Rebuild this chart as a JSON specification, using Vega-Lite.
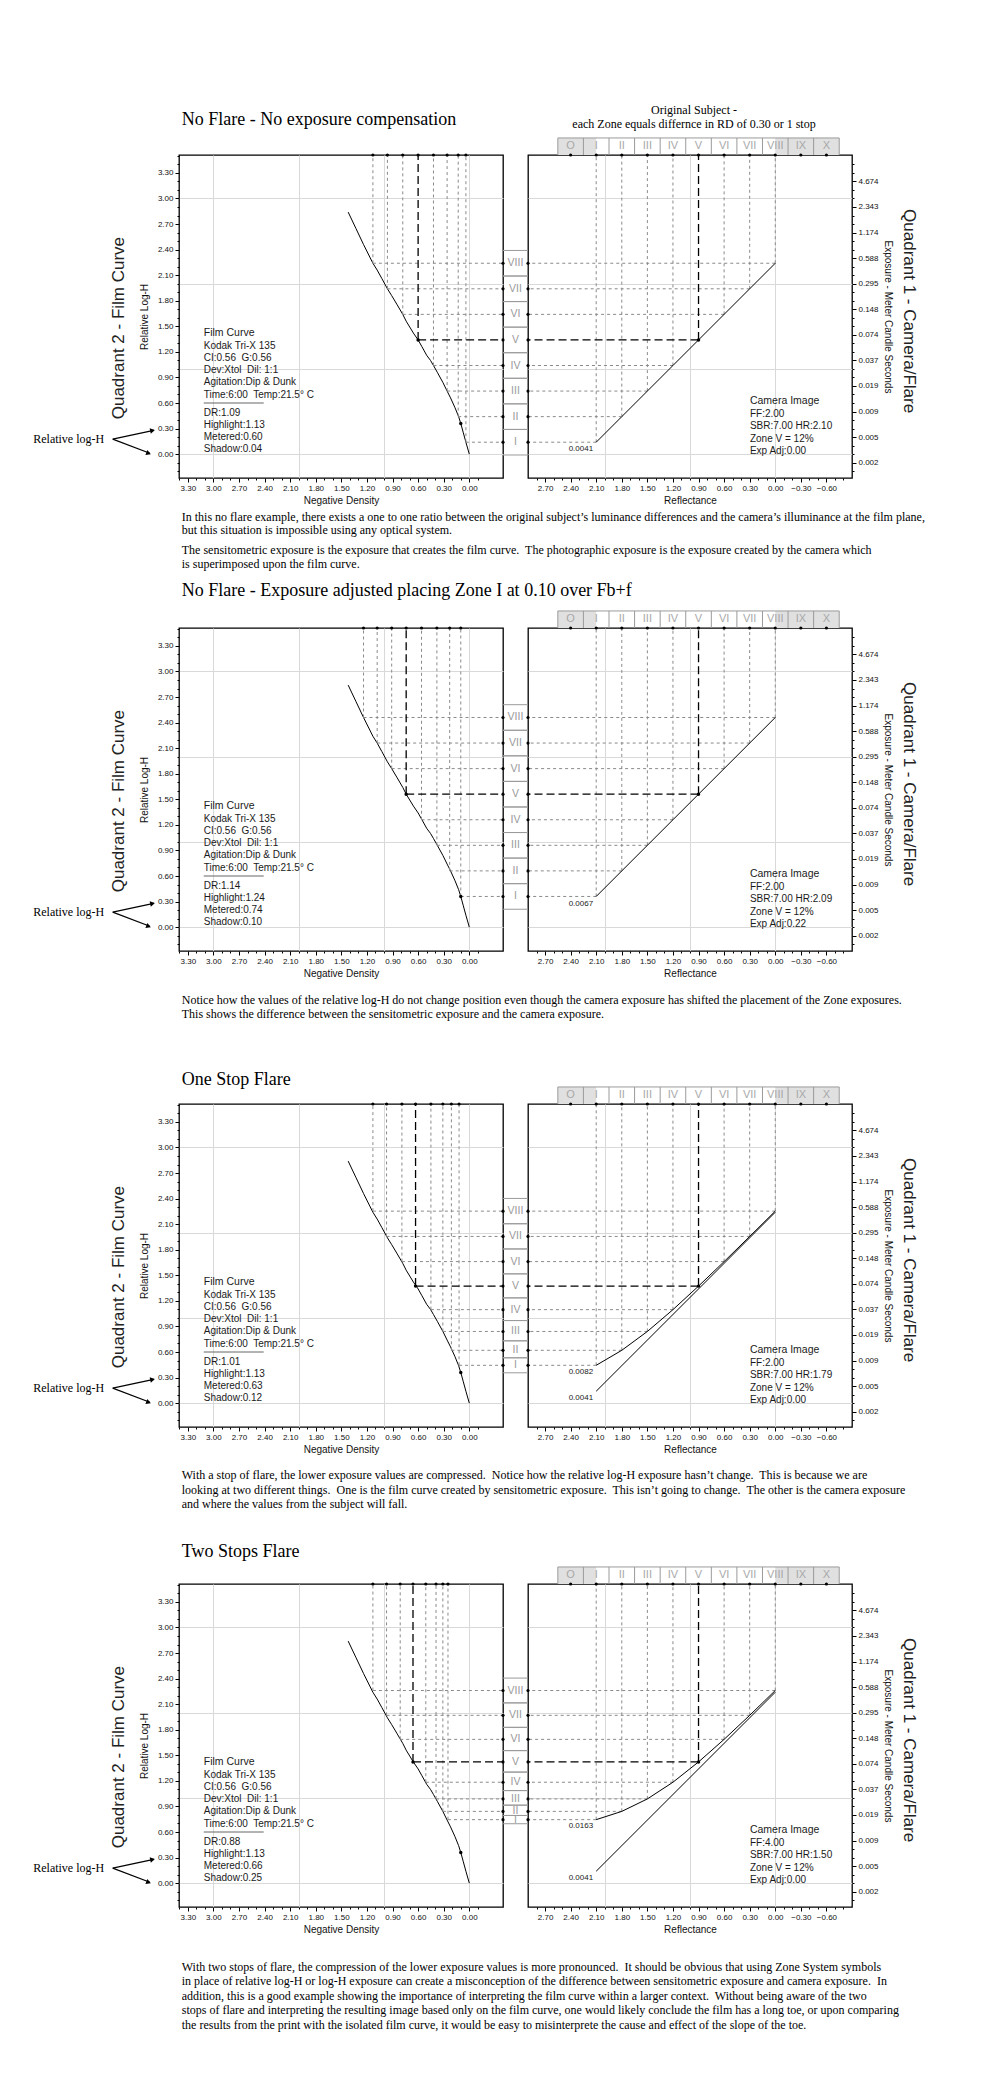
{
"$schema": "https://vega.github.io/schema/vega-lite/v6.json",
"padding": 0,
"background": "white",
"config": {
  "font": "Liberation Sans",
  "view": {"stroke": "#000", "strokeWidth": 1.3},
  "axis": {"labelFont": "Liberation Sans", "labelFontSize": 8, "labelColor": "#111", "tickColor": "#000", "titleFont": "Liberation Sans", "titleFontSize": 10, "titleFontWeight": "normal", "titleColor": "#111", "domain": false, "labelOverlap": false, "labelFlush": false, "labelBound": false, "gridColor": "#d9d9d9", "labelPadding": 2, "tickCount": 100},
  "text": {"font": "Liberation Sans", "color": "#1a1a1a"}
},
"datasets": {
  "film": [
    {"logH": 0, "D": 0}, {"logH": 0.14, "D": 0.04}, {"logH": 0.25, "D": 0.07}, {"logH": 0.36, "D": 0.10}, {"logH": 0.44, "D": 0.125}, {"logH": 0.55, "D": 0.17}, {"logH": 0.66, "D": 0.22}, {"logH": 0.74, "D": 0.26}, {"logH": 0.842, "D": 0.31}, {"logH": 0.96, "D": 0.375}, {"logH": 1.04, "D": 0.42}, {"logH": 1.10, "D": 0.455}, {"logH": 1.16, "D": 0.50}, {"logH": 1.26, "D": 0.555}, {"logH": 1.34, "D": 0.60}, {"logH": 1.42, "D": 0.655}, {"logH": 1.56, "D": 0.74}, {"logH": 1.64, "D": 0.78}, {"logH": 1.76, "D": 0.85}, {"logH": 1.86, "D": 0.91}, {"logH": 1.94, "D": 0.96}, {"logH": 2.06, "D": 1.025}, {"logH": 2.16, "D": 1.08}, {"logH": 2.24, "D": 1.13}, {"logH": 2.46, "D": 1.24}, {"logH": 2.65, "D": 1.33}, {"logH": 2.84, "D": 1.42}
  ],
  "zones": [
    {"sec":1,"zone":"I","logH":0.14,"D":0.04,"R":2.1,"lo":-0.01,"hi":0.29},
    {"sec":1,"zone":"II","logH":0.44,"D":0.13,"R":1.8,"lo":0.29,"hi":0.59},
    {"sec":1,"zone":"III","logH":0.74,"D":0.26,"R":1.5,"lo":0.59,"hi":0.89},
    {"sec":1,"zone":"IV","logH":1.04,"D":0.42,"R":1.2,"lo":0.89,"hi":1.19},
    {"sec":1,"zone":"V","logH":1.34,"D":0.60,"R":0.9,"lo":1.19,"hi":1.49},
    {"sec":1,"zone":"VI","logH":1.64,"D":0.78,"R":0.6,"lo":1.49,"hi":1.79},
    {"sec":1,"zone":"VII","logH":1.94,"D":0.96,"R":0.3,"lo":1.79,"hi":2.09},
    {"sec":1,"zone":"VIII","logH":2.24,"D":1.13,"R":0.0,"lo":2.09,"hi":2.39},
    {"sec":2,"zone":"I","logH":0.36,"D":0.10,"R":2.1,"lo":0.21,"hi":0.51},
    {"sec":2,"zone":"II","logH":0.66,"D":0.23,"R":1.8,"lo":0.51,"hi":0.81},
    {"sec":2,"zone":"III","logH":0.96,"D":0.38,"R":1.5,"lo":0.81,"hi":1.11},
    {"sec":2,"zone":"IV","logH":1.26,"D":0.56,"R":1.2,"lo":1.11,"hi":1.41},
    {"sec":2,"zone":"V","logH":1.56,"D":0.74,"R":0.9,"lo":1.41,"hi":1.71},
    {"sec":2,"zone":"VI","logH":1.86,"D":0.91,"R":0.6,"lo":1.71,"hi":2.01},
    {"sec":2,"zone":"VII","logH":2.16,"D":1.08,"R":0.3,"lo":2.01,"hi":2.31},
    {"sec":2,"zone":"VIII","logH":2.46,"D":1.24,"R":0.0,"lo":2.31,"hi":2.61},
    {"sec":3,"zone":"I","logH":0.444,"D":0.12,"R":2.1,"lo":0.356,"hi":0.532},
    {"sec":3,"zone":"II","logH":0.62,"D":0.21,"R":1.8,"lo":0.532,"hi":0.731},
    {"sec":3,"zone":"III","logH":0.841,"D":0.31,"R":1.5,"lo":0.731,"hi":0.969},
    {"sec":3,"zone":"IV","logH":1.097,"D":0.45,"R":1.2,"lo":0.969,"hi":1.235},
    {"sec":3,"zone":"V","logH":1.373,"D":0.63,"R":0.9,"lo":1.235,"hi":1.517},
    {"sec":3,"zone":"VI","logH":1.661,"D":0.79,"R":0.6,"lo":1.517,"hi":1.809},
    {"sec":3,"zone":"VII","logH":1.956,"D":0.97,"R":0.3,"lo":1.809,"hi":2.105},
    {"sec":3,"zone":"VIII","logH":2.253,"D":1.13,"R":0.0,"lo":2.105,"hi":2.402},
    {"sec":4,"zone":"I","logH":0.745,"D":0.25,"R":2.1,"lo":0.697,"hi":0.794},
    {"sec":4,"zone":"II","logH":0.842,"D":0.31,"R":1.8,"lo":0.794,"hi":0.915},
    {"sec":4,"zone":"III","logH":0.988,"D":0.39,"R":1.5,"lo":0.915,"hi":1.086},
    {"sec":4,"zone":"IV","logH":1.184,"D":0.51,"R":1.2,"lo":1.086,"hi":1.303},
    {"sec":4,"zone":"V","logH":1.422,"D":0.66,"R":0.9,"lo":1.303,"hi":1.555},
    {"sec":4,"zone":"VI","logH":1.687,"D":0.81,"R":0.6,"lo":1.555,"hi":1.828},
    {"sec":4,"zone":"VII","logH":1.969,"D":0.97,"R":0.3,"lo":1.828,"hi":2.115},
    {"sec":4,"zone":"VIII","logH":2.26,"D":1.13,"R":0.0,"lo":2.115,"hi":2.406}
  ],
  "top": [
    {"zone":"O","R":2.4,"R1":2.55},{"zone":"I","R":2.1,"R1":2.25},{"zone":"II","R":1.8,"R1":1.95},{"zone":"III","R":1.5,"R1":1.65},{"zone":"IV","R":1.2,"R1":1.35},{"zone":"V","R":0.9,"R1":1.05},{"zone":"VI","R":0.6,"R1":0.75},{"zone":"VII","R":0.3,"R1":0.45},{"zone":"VIII","R":0.0,"R1":0.15},{"zone":"IX","R":-0.3,"R1":-0.15},{"zone":"X","R":-0.6,"R1":-0.45}
  ],
  "ref": [
    {"sec":3,"R":2.1,"logH":0.14},{"sec":3,"R":0.0,"logH":2.24},
    {"sec":4,"R":2.1,"logH":0.14},{"sec":4,"R":0.0,"logH":2.24}
  ]
},
"vconcat": [
{"hconcat": [
 {"width": 324, "height": 323, "layer": [
  {"data": {"values": [{}]}, "mark": {"type": "rule", "opacity": 0}, "encoding": {"x": {"datum": 5.493}, "x2": {"datum": -6.323}, "y": {"datum": 5.317}, "y2": {"datum": -1.418}}},
  {"data": {"name": "film"}, "mark": {"type": "line", "color": "#000", "strokeWidth": 1},
   "encoding": {
    "x": {"field": "D", "type": "quantitative", "scale": {"domain": [-0.395, 3.403], "reverse": true, "nice": false, "zero": false},
      "axis": {"title": "Negative Density", "tickCount": 100, "labelOverlap": false, "values": [-0.1,0,0.1,0.2,0.3,0.4,0.5,0.6,0.7,0.8,0.9,1,1.1,1.2,1.3,1.4,1.5,1.6,1.7,1.8,1.9,2,2.1,2.2,2.3,2.4,2.5,2.6,2.7,2.8,2.9,3,3.1,3.2,3.3,3.4], "labelExpr": "round(datum.value*10)%3==0 ? format(datum.value,'.2f') : ''", "tickSize": {"condition": {"test": "round(datum.value*10)%3==0", "value": 4}, "value": 2}, "grid": true, "gridOpacity": {"condition": {"test": "abs(datum.value-round(datum.value))<0.01", "value": 1}, "value": 0}, "titlePadding": 3}},
    "y": {"field": "logH", "type": "quantitative", "scale": {"domain": [-0.28, 3.51], "nice": false, "zero": false},
      "axis": {"title": "Relative Log-H", "tickCount": 100, "labelOverlap": false, "values": [-0.2,-0.1,0,0.1,0.2,0.3,0.4,0.5,0.6,0.7,0.8,0.9,1,1.1,1.2,1.3,1.4,1.5,1.6,1.7,1.8,1.9,2,2.1,2.2,2.3,2.4,2.5,2.6,2.7,2.8,2.9,3,3.1,3.2,3.3,3.4,3.5], "labelExpr": "round(datum.value*10)%3==0 ? format(datum.value,'.2f') : ''", "tickSize": {"condition": {"test": "round(datum.value*10)%3==0", "value": 4}, "value": 2}, "grid": true, "gridOpacity": {"condition": {"test": "abs(datum.value-round(datum.value))<0.01", "value": 1}, "value": 0}, "titlePadding": 8}}}},
  {"data": {"name": "zones"}, "transform": [{"filter": "datum.sec==1 && datum.zone!='V'"}], "mark": {"type": "rule", "color": "#8a8a8a", "strokeDash": [3,3], "strokeWidth": 1}, "encoding": {"x": {"field": "D", "type": "quantitative"}, "y": {"field": "logH", "type": "quantitative"}, "y2": {"datum": 3.51}}},
  {"data": {"name": "zones"}, "transform": [{"filter": "datum.sec==1 && datum.zone!='V'"}], "mark": {"type": "rule", "color": "#8a8a8a", "strokeDash": [3,3], "strokeWidth": 1}, "encoding": {"x": {"field": "D", "type": "quantitative"}, "x2": {"datum": -0.395}, "y": {"field": "logH", "type": "quantitative"}}},
  {"data": {"name": "zones"}, "transform": [{"filter": "datum.sec==1 && datum.zone=='V'"}], "mark": {"type": "rule", "color": "#000", "strokeDash": [8,4], "strokeWidth": 1.3}, "encoding": {"x": {"field": "D", "type": "quantitative"}, "y": {"field": "logH", "type": "quantitative"}, "y2": {"datum": 3.51}}},
  {"data": {"name": "zones"}, "transform": [{"filter": "datum.sec==1 && datum.zone=='V'"}], "mark": {"type": "rule", "color": "#000", "strokeDash": [8,4], "strokeWidth": 1.3}, "encoding": {"x": {"field": "D", "type": "quantitative"}, "x2": {"datum": -0.395}, "y": {"field": "logH", "type": "quantitative"}}},
  {"data": {"name": "zones"}, "transform": [{"filter": "datum.sec==1"}], "mark": {"type": "point", "filled": true, "size": 10, "color": "#000", "opacity": 1}, "encoding": {"x": {"field": "D", "type": "quantitative"}, "y": {"datum": 3.51}}},
  {"data": {"name": "zones"}, "transform": [{"filter": "datum.sec==1"}], "mark": {"type": "point", "filled": true, "size": 10, "color": "#000", "opacity": 1}, "encoding": {"x": {"datum": -0.395}, "y": {"field": "logH", "type": "quantitative"}}},
  {"data": {"name": "zones"}, "transform": [{"filter": "datum.sec==1 && datum.zone=='V'"}], "mark": {"type": "point", "filled": true, "size": 12, "color": "#000", "opacity": 1}, "encoding": {"x": {"field": "D", "type": "quantitative"}, "y": {"field": "logH", "type": "quantitative"}}},
  {"data": {"values": [{}]}, "mark": {"type": "point", "filled": true, "size": 12, "color": "#000", "opacity": 1}, "encoding": {"x": {"datum": 0.10}, "y": {"datum": 0.36}}},
  {"data": {"values": [{}]}, "mark": {"type": "text", "font": "Liberation Serif", "fontSize": 18, "align": "left", "baseline": "middle", "color": "#000"}, "encoding": {"x": {"datum": 3.371}, "y": {"datum": 3.921}, "text": {"value": "No Flare - No exposure compensation"}}},
  {"data": {"values": [{}]}, "mark": {"type": "text", "font": "Liberation Serif", "fontSize": 12, "lineHeight": 13.5, "align": "left", "baseline": "alphabetic", "color": "#000"}, "encoding": {"x": {"datum": 3.371}, "y": {"datum": -0.780}, "text": {"value": ["In this no flare example, there exists a one to one ratio between the original subject’s luminance differences and the camera’s illuminance at the film plane,", "but this situation is impossible using any optical system."]}}},
  {"data": {"values": [{}]}, "mark": {"type": "text", "font": "Liberation Serif", "fontSize": 12, "lineHeight": 14, "align": "left", "baseline": "alphabetic", "color": "#000"}, "encoding": {"x": {"datum": 3.371}, "y": {"datum": -1.167}, "text": {"value": ["The sensitometric exposure is the exposure that creates the film curve.\u00a0 The photographic exposure is the exposure created by the camera which", "is superimposed upon the film curve."]}}},
  {"data": {"values": [{}]}, "mark": {"type": "text", "fontSize": 10.5, "align": "left", "baseline": "middle"}, "encoding": {"x": {"datum": 3.113}, "y": {"datum": 1.42}, "text": {"value": "Film Curve"}}},
  {"data": {"values": [{}]}, "mark": {"type": "text", "fontSize": 10, "lineHeight": 12.1, "align": "left", "baseline": "alphabetic"}, "encoding": {"x": {"datum": 3.113}, "y": {"datum": 1.232}, "text": {"value": ["Kodak Tri-X 135", "CI:0.56\u00a0 G:0.56", "Dev:Xtol\u00a0 Dil: 1:1", "Agitation:Dip & Dunk", "Time:6:00\u00a0 Temp:21.5° C"]}}},
  {"data": {"values": [{}]}, "mark": {"type": "rule", "color": "#666", "strokeWidth": 1}, "encoding": {"x": {"datum": 3.113}, "x2": {"datum": 2.41}, "y": {"datum": 0.60}}},
  {"data": {"values": [{}]}, "mark": {"type": "text", "fontSize": 10, "lineHeight": 11.8, "align": "left", "baseline": "alphabetic"}, "encoding": {"x": {"datum": 3.113}, "y": {"datum": 0.446}, "text": {"value": ["DR:1.09", "Highlight:1.13", "Metered:0.60", "Shadow:0.04"]}}},
  {"data": {"values": [{}]}, "mark": {"type": "text", "fontSize": 17, "angle": 270, "align": "center", "baseline": "middle", "color": "#222"}, "encoding": {"x": {"datum": 4.110}, "y": {"datum": 1.479}, "text": {"value": "Quadrant 2 - Film Curve"}}},
  {"data": {"values": [{}]}, "mark": {"type": "text", "font": "Liberation Serif", "fontSize": 12, "align": "center", "baseline": "middle", "color": "#000"}, "encoding": {"x": {"datum": 4.696}, "y": {"datum": 0.176}, "text": {"value": "Relative log-H"}}},
  {"data": {"values": [{}]}, "mark": {"type": "rule", "color": "#000", "strokeWidth": 1.2}, "encoding": {"x": {"datum": 4.18}, "y": {"datum": 0.176}, "x2": {"datum": 3.70}, "y2": {"datum": 0.278}}},
  {"data": {"values": [{}]}, "mark": {"type": "rule", "color": "#000", "strokeWidth": 1.2}, "encoding": {"x": {"datum": 4.18}, "y": {"datum": 0.176}, "x2": {"datum": 3.745}, "y2": {"datum": 0.01}}},
  {"data": {"values": [{}]}, "mark": {"type": "point", "shape": "triangle", "filled": true, "size": 30, "angle": 78, "color": "#000", "opacity": 1}, "encoding": {"x": {"datum": 3.722}, "y": {"datum": 0.275}}},
  {"data": {"values": [{}]}, "mark": {"type": "point", "shape": "triangle", "filled": true, "size": 30, "angle": 111, "color": "#000", "opacity": 1}, "encoding": {"x": {"datum": 3.768}, "y": {"datum": 0.013}}}
 ]},
 {"width": 324, "height": 323, "layer": [
  {"data": {"values": [{}]}, "mark": {"type": "rect", "color": "#e0e0e0"}, "encoding": {"x": {"datum": 2.55}, "x2": {"datum": 2.10}, "y": {"datum": 3.51}, "y2": {"datum": 3.71}}},
  {"data": {"values": [{}]}, "mark": {"type": "rect", "color": "#e0e0e0"}, "encoding": {"x": {"datum": 0.0}, "x2": {"datum": -0.75}, "y": {"datum": 3.51}, "y2": {"datum": 3.71}}},
  {"data": {"name": "top"}, "mark": {"type": "rule", "color": "#9a9a9a"}, "encoding": {"x": {"field": "R1", "type": "quantitative"}, "y": {"datum": 3.51}, "y2": {"datum": 3.71}}},
  {"data": {"values": [{}]}, "mark": {"type": "rule", "color": "#9a9a9a"}, "encoding": {"x": {"datum": -0.75}, "y": {"datum": 3.51}, "y2": {"datum": 3.71}}},
  {"data": {"values": [{}]}, "mark": {"type": "rule", "color": "#9a9a9a"}, "encoding": {"x": {"datum": 2.55}, "x2": {"datum": -0.75}, "y": {"datum": 3.71}}},
  {"data": {"name": "top"}, "mark": {"type": "text", "fontSize": 11, "color": "#a8a8a8", "baseline": "middle"}, "encoding": {"x": {"field": "R", "type": "quantitative"}, "y": {"datum": 3.61}, "text": {"field": "zone", "type": "nominal"}}},
  {"data": {"name": "zones"}, "transform": [{"filter": "datum.sec==1"}], "mark": {"type": "rule", "color": "#9a9a9a"}, "encoding": {"x": {"datum": 2.90}, "x2": {"datum": 3.193}, "y": {"field": "lo", "type": "quantitative"}}},
  {"data": {"name": "zones"}, "transform": [{"filter": "datum.sec==1"}], "mark": {"type": "rule", "color": "#9a9a9a"}, "encoding": {"x": {"datum": 2.90}, "x2": {"datum": 3.193}, "y": {"field": "hi", "type": "quantitative"}}},
  {"data": {"name": "zones"}, "transform": [{"filter": "datum.sec==1"}], "mark": {"type": "text", "fontSize": 10.5, "color": "#999", "baseline": "middle"}, "encoding": {"x": {"datum": 3.047}, "y": {"field": "logH", "type": "quantitative"}, "text": {"field": "zone", "type": "nominal"}}},
  {"data": {"name": "zones"}, "transform": [{"filter": "datum.sec==1 && datum.zone!='V'"}], "mark": {"type": "rule", "color": "#8a8a8a", "strokeDash": [3,3], "strokeWidth": 1}, "encoding": {"x": {"field": "R", "type": "quantitative"}, "y": {"field": "logH", "type": "quantitative"}, "y2": {"datum": 3.51}}},
  {"data": {"name": "zones"}, "transform": [{"filter": "datum.sec==1 && datum.zone!='V'"}], "mark": {"type": "rule", "color": "#8a8a8a", "strokeDash": [3,3], "strokeWidth": 1}, "encoding": {"x": {"field": "R", "type": "quantitative"}, "x2": {"datum": 2.90}, "y": {"field": "logH", "type": "quantitative"}}},
  {"data": {"name": "zones"}, "transform": [{"filter": "datum.sec==1 && datum.zone=='V'"}], "mark": {"type": "rule", "color": "#000", "strokeDash": [8,4], "strokeWidth": 1.3}, "encoding": {"x": {"field": "R", "type": "quantitative"}, "y": {"field": "logH", "type": "quantitative"}, "y2": {"datum": 3.51}}},
  {"data": {"name": "zones"}, "transform": [{"filter": "datum.sec==1 && datum.zone=='V'"}], "mark": {"type": "rule", "color": "#000", "strokeDash": [8,4], "strokeWidth": 1.3}, "encoding": {"x": {"field": "R", "type": "quantitative"}, "x2": {"datum": 2.90}, "y": {"field": "logH", "type": "quantitative"}}},
  {"data": {"name": "zones"}, "transform": [{"filter": "datum.sec==1"}], "mark": {"type": "line", "color": "#000", "strokeWidth": 1},
   "encoding": {
    "x": {"field": "R", "type": "quantitative", "scale": {"domain": [-0.9, 2.9], "reverse": true, "nice": false, "zero": false},
      "axis": {"title": "Reflectance", "tickCount": 100, "labelOverlap": false, "values": [-0.8,-0.7,-0.6,-0.5,-0.4,-0.3,-0.2,-0.1,0,0.1,0.2,0.3,0.4,0.5,0.6,0.7,0.8,0.9,1,1.1,1.2,1.3,1.4,1.5,1.6,1.7,1.8,1.9,2,2.1,2.2,2.3,2.4,2.5,2.6,2.7,2.8], "labelExpr": "round(datum.value*10)%3==0 ? format(datum.value,'.2f') : ''", "tickSize": {"condition": {"test": "round(datum.value*10)%3==0", "value": 4}, "value": 2}, "grid": true, "gridOpacity": {"condition": {"test": "abs(datum.value-round(datum.value))<0.01", "value": 1}, "value": 0}, "titlePadding": 3}},
    "y": {"field": "logH", "type": "quantitative", "scale": {"domain": [-0.28, 3.51], "nice": false, "zero": false},
      "axis": {"orient": "right", "title": "Exposure - Meter Candle Seconds", "tickCount": 100, "labelOverlap": false, "values": [-0.2,-0.1,0,0.1,0.2,0.3,0.4,0.5,0.6,0.7,0.8,0.9,1,1.1,1.2,1.3,1.4,1.5,1.6,1.7,1.8,1.9,2,2.1,2.2,2.3,2.4,2.5,2.6,2.7,2.8,2.9,3,3.1,3.2,3.3,3.4], "labelExpr": "(round(datum.value*10)+1)%3==0 ? format(4.674*pow(10,datum.value-3.2),'.3f') : ''", "tickSize": {"condition": {"test": "(round(datum.value*10)+1)%3==0", "value": 4}, "value": 2}, "grid": true, "gridOpacity": {"condition": {"test": "abs(datum.value-round(datum.value))<0.01", "value": 1}, "value": 0}, "titlePadding": 4}}}},
  {"data": {"name": "top"}, "mark": {"type": "point", "filled": true, "size": 10, "color": "#000", "opacity": 1}, "encoding": {"x": {"field": "R", "type": "quantitative"}, "y": {"datum": 3.51}}},
  {"data": {"name": "zones"}, "transform": [{"filter": "datum.sec==1"}], "mark": {"type": "point", "filled": true, "size": 10, "color": "#000", "opacity": 1}, "encoding": {"x": {"datum": 2.90}, "y": {"field": "logH", "type": "quantitative"}}},
  {"data": {"name": "zones"}, "transform": [{"filter": "datum.sec==1 && datum.zone=='V'"}], "mark": {"type": "point", "filled": true, "size": 12, "color": "#000", "opacity": 1}, "encoding": {"x": {"field": "R", "type": "quantitative"}, "y": {"field": "logH", "type": "quantitative"}}},
  {"data": {"values": [{}]}, "mark": {"type": "text", "fontSize": 8, "baseline": "middle"}, "encoding": {"x": {"datum": 2.28}, "y": {"datum": 0.055}, "text": {"value": "0.0041"}}},
  {"data": {"values": [{}]}, "mark": {"type": "text", "fontSize": 10.5, "align": "left", "baseline": "middle"}, "encoding": {"x": {"datum": 0.297}, "y": {"datum": 0.62}, "text": {"value": "Camera Image"}}},
  {"data": {"values": [{}]}, "mark": {"type": "text", "fontSize": 10, "lineHeight": 12.3, "align": "left", "baseline": "alphabetic"}, "encoding": {"x": {"datum": 0.297}, "y": {"datum": 0.434}, "text": {"value": ["FF:2.00", "SBR:7.00 HR:2.10", "Zone V = 12%", "Exp Adj:0.00"]}}},
  {"data": {"values": [{}]}, "mark": {"type": "text", "fontSize": 17, "angle": 90, "align": "center", "baseline": "middle", "color": "#222"}, "encoding": {"x": {"datum": -1.567}, "y": {"datum": 1.678}, "text": {"value": "Quadrant 1 - Camera/Flare"}}},
  {"data": {"values": [{}]}, "mark": {"type": "text", "font": "Liberation Serif", "fontSize": 12, "lineHeight": 14, "align": "center", "baseline": "alphabetic", "color": "#000"}, "encoding": {"x": {"datum": 0.953}, "y": {"datum": 3.996}, "text": {"value": ["Original Subject -", "each Zone equals differnce in RD of 0.30 or 1 stop"]}}}
 ]}
], "spacing": 25, "bounds": "flush"},

{"hconcat": [
 {"width": 324, "height": 323, "layer": [
  {"data": {"values": [{}]}, "mark": {"type": "rule", "opacity": 0}, "encoding": {"x": {"datum": 5.493}, "x2": {"datum": -6.323}, "y": {"datum": 4.108}, "y2": {"datum": -1.360}}},
  {"data": {"name": "film"}, "mark": {"type": "line", "color": "#000", "strokeWidth": 1},
   "encoding": {
    "x": {"field": "D", "type": "quantitative", "scale": {"domain": [-0.395, 3.403], "reverse": true, "nice": false, "zero": false},
      "axis": {"title": "Negative Density", "tickCount": 100, "labelOverlap": false, "values": [-0.1,0,0.1,0.2,0.3,0.4,0.5,0.6,0.7,0.8,0.9,1,1.1,1.2,1.3,1.4,1.5,1.6,1.7,1.8,1.9,2,2.1,2.2,2.3,2.4,2.5,2.6,2.7,2.8,2.9,3,3.1,3.2,3.3,3.4], "labelExpr": "round(datum.value*10)%3==0 ? format(datum.value,'.2f') : ''", "tickSize": {"condition": {"test": "round(datum.value*10)%3==0", "value": 4}, "value": 2}, "grid": true, "gridOpacity": {"condition": {"test": "abs(datum.value-round(datum.value))<0.01", "value": 1}, "value": 0}, "titlePadding": 3}},
    "y": {"field": "logH", "type": "quantitative", "scale": {"domain": [-0.28, 3.51], "nice": false, "zero": false},
      "axis": {"title": "Relative Log-H", "tickCount": 100, "labelOverlap": false, "values": [-0.2,-0.1,0,0.1,0.2,0.3,0.4,0.5,0.6,0.7,0.8,0.9,1,1.1,1.2,1.3,1.4,1.5,1.6,1.7,1.8,1.9,2,2.1,2.2,2.3,2.4,2.5,2.6,2.7,2.8,2.9,3,3.1,3.2,3.3,3.4,3.5], "labelExpr": "round(datum.value*10)%3==0 ? format(datum.value,'.2f') : ''", "tickSize": {"condition": {"test": "round(datum.value*10)%3==0", "value": 4}, "value": 2}, "grid": true, "gridOpacity": {"condition": {"test": "abs(datum.value-round(datum.value))<0.01", "value": 1}, "value": 0}, "titlePadding": 8}}}},
  {"data": {"name": "zones"}, "transform": [{"filter": "datum.sec==2 && datum.zone!='V'"}], "mark": {"type": "rule", "color": "#8a8a8a", "strokeDash": [3,3], "strokeWidth": 1}, "encoding": {"x": {"field": "D", "type": "quantitative"}, "y": {"field": "logH", "type": "quantitative"}, "y2": {"datum": 3.51}}},
  {"data": {"name": "zones"}, "transform": [{"filter": "datum.sec==2 && datum.zone!='V'"}], "mark": {"type": "rule", "color": "#8a8a8a", "strokeDash": [3,3], "strokeWidth": 1}, "encoding": {"x": {"field": "D", "type": "quantitative"}, "x2": {"datum": -0.395}, "y": {"field": "logH", "type": "quantitative"}}},
  {"data": {"name": "zones"}, "transform": [{"filter": "datum.sec==2 && datum.zone=='V'"}], "mark": {"type": "rule", "color": "#000", "strokeDash": [8,4], "strokeWidth": 1.3}, "encoding": {"x": {"field": "D", "type": "quantitative"}, "y": {"field": "logH", "type": "quantitative"}, "y2": {"datum": 3.51}}},
  {"data": {"name": "zones"}, "transform": [{"filter": "datum.sec==2 && datum.zone=='V'"}], "mark": {"type": "rule", "color": "#000", "strokeDash": [8,4], "strokeWidth": 1.3}, "encoding": {"x": {"field": "D", "type": "quantitative"}, "x2": {"datum": -0.395}, "y": {"field": "logH", "type": "quantitative"}}},
  {"data": {"name": "zones"}, "transform": [{"filter": "datum.sec==2"}], "mark": {"type": "point", "filled": true, "size": 10, "color": "#000", "opacity": 1}, "encoding": {"x": {"field": "D", "type": "quantitative"}, "y": {"datum": 3.51}}},
  {"data": {"name": "zones"}, "transform": [{"filter": "datum.sec==2"}], "mark": {"type": "point", "filled": true, "size": 10, "color": "#000", "opacity": 1}, "encoding": {"x": {"datum": -0.395}, "y": {"field": "logH", "type": "quantitative"}}},
  {"data": {"name": "zones"}, "transform": [{"filter": "datum.sec==2 && datum.zone=='V'"}], "mark": {"type": "point", "filled": true, "size": 12, "color": "#000", "opacity": 1}, "encoding": {"x": {"field": "D", "type": "quantitative"}, "y": {"field": "logH", "type": "quantitative"}}},
  {"data": {"values": [{}]}, "mark": {"type": "point", "filled": true, "size": 12, "color": "#000", "opacity": 1}, "encoding": {"x": {"datum": 0.10}, "y": {"datum": 0.36}}},
  {"data": {"values": [{}]}, "mark": {"type": "text", "font": "Liberation Serif", "fontSize": 18, "align": "left", "baseline": "middle", "color": "#000"}, "encoding": {"x": {"datum": 3.371}, "y": {"datum": 3.944}, "text": {"value": "No Flare - Exposure adjusted placing Zone I at 0.10 over Fb+f"}}},
  {"data": {"values": [{}]}, "mark": {"type": "text", "font": "Liberation Serif", "fontSize": 12, "lineHeight": 14, "align": "left", "baseline": "alphabetic", "color": "#000"}, "encoding": {"x": {"datum": 3.371}, "y": {"datum": -0.897}, "text": {"value": ["Notice how the values of the relative log-H do not change position even though the camera exposure has shifted the placement of the Zone exposures.", "This shows the difference between the sensitometric exposure and the camera exposure."]}}},
  {"data": {"values": [{}]}, "mark": {"type": "text", "fontSize": 10.5, "align": "left", "baseline": "middle"}, "encoding": {"x": {"datum": 3.113}, "y": {"datum": 1.42}, "text": {"value": "Film Curve"}}},
  {"data": {"values": [{}]}, "mark": {"type": "text", "fontSize": 10, "lineHeight": 12.1, "align": "left", "baseline": "alphabetic"}, "encoding": {"x": {"datum": 3.113}, "y": {"datum": 1.232}, "text": {"value": ["Kodak Tri-X 135", "CI:0.56\u00a0 G:0.56", "Dev:Xtol\u00a0 Dil: 1:1", "Agitation:Dip & Dunk", "Time:6:00\u00a0 Temp:21.5° C"]}}},
  {"data": {"values": [{}]}, "mark": {"type": "rule", "color": "#666", "strokeWidth": 1}, "encoding": {"x": {"datum": 3.113}, "x2": {"datum": 2.41}, "y": {"datum": 0.60}}},
  {"data": {"values": [{}]}, "mark": {"type": "text", "fontSize": 10, "lineHeight": 11.8, "align": "left", "baseline": "alphabetic"}, "encoding": {"x": {"datum": 3.113}, "y": {"datum": 0.446}, "text": {"value": ["DR:1.14", "Highlight:1.24", "Metered:0.74", "Shadow:0.10"]}}},
  {"data": {"values": [{}]}, "mark": {"type": "text", "fontSize": 17, "angle": 270, "align": "center", "baseline": "middle", "color": "#222"}, "encoding": {"x": {"datum": 4.110}, "y": {"datum": 1.479}, "text": {"value": "Quadrant 2 - Film Curve"}}},
  {"data": {"values": [{}]}, "mark": {"type": "text", "font": "Liberation Serif", "fontSize": 12, "align": "center", "baseline": "middle", "color": "#000"}, "encoding": {"x": {"datum": 4.696}, "y": {"datum": 0.176}, "text": {"value": "Relative log-H"}}},
  {"data": {"values": [{}]}, "mark": {"type": "rule", "color": "#000", "strokeWidth": 1.2}, "encoding": {"x": {"datum": 4.18}, "y": {"datum": 0.176}, "x2": {"datum": 3.70}, "y2": {"datum": 0.278}}},
  {"data": {"values": [{}]}, "mark": {"type": "rule", "color": "#000", "strokeWidth": 1.2}, "encoding": {"x": {"datum": 4.18}, "y": {"datum": 0.176}, "x2": {"datum": 3.745}, "y2": {"datum": 0.01}}},
  {"data": {"values": [{}]}, "mark": {"type": "point", "shape": "triangle", "filled": true, "size": 30, "angle": 78, "color": "#000", "opacity": 1}, "encoding": {"x": {"datum": 3.722}, "y": {"datum": 0.275}}},
  {"data": {"values": [{}]}, "mark": {"type": "point", "shape": "triangle", "filled": true, "size": 30, "angle": 111, "color": "#000", "opacity": 1}, "encoding": {"x": {"datum": 3.768}, "y": {"datum": 0.013}}}
 ]},
 {"width": 324, "height": 323, "layer": [
  {"data": {"values": [{}]}, "mark": {"type": "rect", "color": "#e0e0e0"}, "encoding": {"x": {"datum": 2.55}, "x2": {"datum": 2.10}, "y": {"datum": 3.51}, "y2": {"datum": 3.71}}},
  {"data": {"values": [{}]}, "mark": {"type": "rect", "color": "#e0e0e0"}, "encoding": {"x": {"datum": 0.0}, "x2": {"datum": -0.75}, "y": {"datum": 3.51}, "y2": {"datum": 3.71}}},
  {"data": {"name": "top"}, "mark": {"type": "rule", "color": "#9a9a9a"}, "encoding": {"x": {"field": "R1", "type": "quantitative"}, "y": {"datum": 3.51}, "y2": {"datum": 3.71}}},
  {"data": {"values": [{}]}, "mark": {"type": "rule", "color": "#9a9a9a"}, "encoding": {"x": {"datum": -0.75}, "y": {"datum": 3.51}, "y2": {"datum": 3.71}}},
  {"data": {"values": [{}]}, "mark": {"type": "rule", "color": "#9a9a9a"}, "encoding": {"x": {"datum": 2.55}, "x2": {"datum": -0.75}, "y": {"datum": 3.71}}},
  {"data": {"name": "top"}, "mark": {"type": "text", "fontSize": 11, "color": "#a8a8a8", "baseline": "middle"}, "encoding": {"x": {"field": "R", "type": "quantitative"}, "y": {"datum": 3.61}, "text": {"field": "zone", "type": "nominal"}}},
  {"data": {"name": "zones"}, "transform": [{"filter": "datum.sec==2"}], "mark": {"type": "rule", "color": "#9a9a9a"}, "encoding": {"x": {"datum": 2.90}, "x2": {"datum": 3.193}, "y": {"field": "lo", "type": "quantitative"}}},
  {"data": {"name": "zones"}, "transform": [{"filter": "datum.sec==2"}], "mark": {"type": "rule", "color": "#9a9a9a"}, "encoding": {"x": {"datum": 2.90}, "x2": {"datum": 3.193}, "y": {"field": "hi", "type": "quantitative"}}},
  {"data": {"name": "zones"}, "transform": [{"filter": "datum.sec==2"}], "mark": {"type": "text", "fontSize": 10.5, "color": "#999", "baseline": "middle"}, "encoding": {"x": {"datum": 3.047}, "y": {"field": "logH", "type": "quantitative"}, "text": {"field": "zone", "type": "nominal"}}},
  {"data": {"name": "zones"}, "transform": [{"filter": "datum.sec==2 && datum.zone!='V'"}], "mark": {"type": "rule", "color": "#8a8a8a", "strokeDash": [3,3], "strokeWidth": 1}, "encoding": {"x": {"field": "R", "type": "quantitative"}, "y": {"field": "logH", "type": "quantitative"}, "y2": {"datum": 3.51}}},
  {"data": {"name": "zones"}, "transform": [{"filter": "datum.sec==2 && datum.zone!='V'"}], "mark": {"type": "rule", "color": "#8a8a8a", "strokeDash": [3,3], "strokeWidth": 1}, "encoding": {"x": {"field": "R", "type": "quantitative"}, "x2": {"datum": 2.90}, "y": {"field": "logH", "type": "quantitative"}}},
  {"data": {"name": "zones"}, "transform": [{"filter": "datum.sec==2 && datum.zone=='V'"}], "mark": {"type": "rule", "color": "#000", "strokeDash": [8,4], "strokeWidth": 1.3}, "encoding": {"x": {"field": "R", "type": "quantitative"}, "y": {"field": "logH", "type": "quantitative"}, "y2": {"datum": 3.51}}},
  {"data": {"name": "zones"}, "transform": [{"filter": "datum.sec==2 && datum.zone=='V'"}], "mark": {"type": "rule", "color": "#000", "strokeDash": [8,4], "strokeWidth": 1.3}, "encoding": {"x": {"field": "R", "type": "quantitative"}, "x2": {"datum": 2.90}, "y": {"field": "logH", "type": "quantitative"}}},
  {"data": {"name": "zones"}, "transform": [{"filter": "datum.sec==2"}], "mark": {"type": "line", "color": "#000", "strokeWidth": 1},
   "encoding": {
    "x": {"field": "R", "type": "quantitative", "scale": {"domain": [-0.9, 2.9], "reverse": true, "nice": false, "zero": false},
      "axis": {"title": "Reflectance", "tickCount": 100, "labelOverlap": false, "values": [-0.8,-0.7,-0.6,-0.5,-0.4,-0.3,-0.2,-0.1,0,0.1,0.2,0.3,0.4,0.5,0.6,0.7,0.8,0.9,1,1.1,1.2,1.3,1.4,1.5,1.6,1.7,1.8,1.9,2,2.1,2.2,2.3,2.4,2.5,2.6,2.7,2.8], "labelExpr": "round(datum.value*10)%3==0 ? format(datum.value,'.2f') : ''", "tickSize": {"condition": {"test": "round(datum.value*10)%3==0", "value": 4}, "value": 2}, "grid": true, "gridOpacity": {"condition": {"test": "abs(datum.value-round(datum.value))<0.01", "value": 1}, "value": 0}, "titlePadding": 3}},
    "y": {"field": "logH", "type": "quantitative", "scale": {"domain": [-0.28, 3.51], "nice": false, "zero": false},
      "axis": {"orient": "right", "title": "Exposure - Meter Candle Seconds", "tickCount": 100, "labelOverlap": false, "values": [-0.2,-0.1,0,0.1,0.2,0.3,0.4,0.5,0.6,0.7,0.8,0.9,1,1.1,1.2,1.3,1.4,1.5,1.6,1.7,1.8,1.9,2,2.1,2.2,2.3,2.4,2.5,2.6,2.7,2.8,2.9,3,3.1,3.2,3.3,3.4], "labelExpr": "(round(datum.value*10)+1)%3==0 ? format(4.674*pow(10,datum.value-3.2),'.3f') : ''", "tickSize": {"condition": {"test": "(round(datum.value*10)+1)%3==0", "value": 4}, "value": 2}, "grid": true, "gridOpacity": {"condition": {"test": "abs(datum.value-round(datum.value))<0.01", "value": 1}, "value": 0}, "titlePadding": 4}}}},
  {"data": {"name": "top"}, "mark": {"type": "point", "filled": true, "size": 10, "color": "#000", "opacity": 1}, "encoding": {"x": {"field": "R", "type": "quantitative"}, "y": {"datum": 3.51}}},
  {"data": {"name": "zones"}, "transform": [{"filter": "datum.sec==2"}], "mark": {"type": "point", "filled": true, "size": 10, "color": "#000", "opacity": 1}, "encoding": {"x": {"datum": 2.90}, "y": {"field": "logH", "type": "quantitative"}}},
  {"data": {"name": "zones"}, "transform": [{"filter": "datum.sec==2 && datum.zone=='V'"}], "mark": {"type": "point", "filled": true, "size": 12, "color": "#000", "opacity": 1}, "encoding": {"x": {"field": "R", "type": "quantitative"}, "y": {"field": "logH", "type": "quantitative"}}},
  {"data": {"values": [{}]}, "mark": {"type": "text", "fontSize": 8, "baseline": "middle"}, "encoding": {"x": {"datum": 2.28}, "y": {"datum": 0.275}, "text": {"value": "0.0067"}}},
  {"data": {"values": [{}]}, "mark": {"type": "text", "fontSize": 10.5, "align": "left", "baseline": "middle"}, "encoding": {"x": {"datum": 0.297}, "y": {"datum": 0.62}, "text": {"value": "Camera Image"}}},
  {"data": {"values": [{}]}, "mark": {"type": "text", "fontSize": 10, "lineHeight": 12.3, "align": "left", "baseline": "alphabetic"}, "encoding": {"x": {"datum": 0.297}, "y": {"datum": 0.434}, "text": {"value": ["FF:2.00", "SBR:7.00 HR:2.09", "Zone V = 12%", "Exp Adj:0.22"]}}},
  {"data": {"values": [{}]}, "mark": {"type": "text", "fontSize": 17, "angle": 90, "align": "center", "baseline": "middle", "color": "#222"}, "encoding": {"x": {"datum": -1.567}, "y": {"datum": 1.678}, "text": {"value": "Quadrant 1 - Camera/Flare"}}}
 ]}
], "spacing": 25, "bounds": "flush"},

{"hconcat": [
 {"width": 324, "height": 323, "layer": [
  {"data": {"values": [{}]}, "mark": {"type": "rule", "opacity": 0}, "encoding": {"x": {"datum": 5.493}, "x2": {"datum": -6.323}, "y": {"datum": 4.202}, "y2": {"datum": -1.430}}},
  {"data": {"name": "film"}, "mark": {"type": "line", "color": "#000", "strokeWidth": 1},
   "encoding": {
    "x": {"field": "D", "type": "quantitative", "scale": {"domain": [-0.395, 3.403], "reverse": true, "nice": false, "zero": false},
      "axis": {"title": "Negative Density", "tickCount": 100, "labelOverlap": false, "values": [-0.1,0,0.1,0.2,0.3,0.4,0.5,0.6,0.7,0.8,0.9,1,1.1,1.2,1.3,1.4,1.5,1.6,1.7,1.8,1.9,2,2.1,2.2,2.3,2.4,2.5,2.6,2.7,2.8,2.9,3,3.1,3.2,3.3,3.4], "labelExpr": "round(datum.value*10)%3==0 ? format(datum.value,'.2f') : ''", "tickSize": {"condition": {"test": "round(datum.value*10)%3==0", "value": 4}, "value": 2}, "grid": true, "gridOpacity": {"condition": {"test": "abs(datum.value-round(datum.value))<0.01", "value": 1}, "value": 0}, "titlePadding": 3}},
    "y": {"field": "logH", "type": "quantitative", "scale": {"domain": [-0.28, 3.51], "nice": false, "zero": false},
      "axis": {"title": "Relative Log-H", "tickCount": 100, "labelOverlap": false, "values": [-0.2,-0.1,0,0.1,0.2,0.3,0.4,0.5,0.6,0.7,0.8,0.9,1,1.1,1.2,1.3,1.4,1.5,1.6,1.7,1.8,1.9,2,2.1,2.2,2.3,2.4,2.5,2.6,2.7,2.8,2.9,3,3.1,3.2,3.3,3.4,3.5], "labelExpr": "round(datum.value*10)%3==0 ? format(datum.value,'.2f') : ''", "tickSize": {"condition": {"test": "round(datum.value*10)%3==0", "value": 4}, "value": 2}, "grid": true, "gridOpacity": {"condition": {"test": "abs(datum.value-round(datum.value))<0.01", "value": 1}, "value": 0}, "titlePadding": 8}}}},
  {"data": {"name": "zones"}, "transform": [{"filter": "datum.sec==3 && datum.zone!='V'"}], "mark": {"type": "rule", "color": "#8a8a8a", "strokeDash": [3,3], "strokeWidth": 1}, "encoding": {"x": {"field": "D", "type": "quantitative"}, "y": {"field": "logH", "type": "quantitative"}, "y2": {"datum": 3.51}}},
  {"data": {"name": "zones"}, "transform": [{"filter": "datum.sec==3 && datum.zone!='V'"}], "mark": {"type": "rule", "color": "#8a8a8a", "strokeDash": [3,3], "strokeWidth": 1}, "encoding": {"x": {"field": "D", "type": "quantitative"}, "x2": {"datum": -0.395}, "y": {"field": "logH", "type": "quantitative"}}},
  {"data": {"name": "zones"}, "transform": [{"filter": "datum.sec==3 && datum.zone=='V'"}], "mark": {"type": "rule", "color": "#000", "strokeDash": [8,4], "strokeWidth": 1.3}, "encoding": {"x": {"field": "D", "type": "quantitative"}, "y": {"field": "logH", "type": "quantitative"}, "y2": {"datum": 3.51}}},
  {"data": {"name": "zones"}, "transform": [{"filter": "datum.sec==3 && datum.zone=='V'"}], "mark": {"type": "rule", "color": "#000", "strokeDash": [8,4], "strokeWidth": 1.3}, "encoding": {"x": {"field": "D", "type": "quantitative"}, "x2": {"datum": -0.395}, "y": {"field": "logH", "type": "quantitative"}}},
  {"data": {"name": "zones"}, "transform": [{"filter": "datum.sec==3"}], "mark": {"type": "point", "filled": true, "size": 10, "color": "#000", "opacity": 1}, "encoding": {"x": {"field": "D", "type": "quantitative"}, "y": {"datum": 3.51}}},
  {"data": {"name": "zones"}, "transform": [{"filter": "datum.sec==3"}], "mark": {"type": "point", "filled": true, "size": 10, "color": "#000", "opacity": 1}, "encoding": {"x": {"datum": -0.395}, "y": {"field": "logH", "type": "quantitative"}}},
  {"data": {"name": "zones"}, "transform": [{"filter": "datum.sec==3 && datum.zone=='V'"}], "mark": {"type": "point", "filled": true, "size": 12, "color": "#000", "opacity": 1}, "encoding": {"x": {"field": "D", "type": "quantitative"}, "y": {"field": "logH", "type": "quantitative"}}},
  {"data": {"values": [{}]}, "mark": {"type": "point", "filled": true, "size": 12, "color": "#000", "opacity": 1}, "encoding": {"x": {"datum": 0.10}, "y": {"datum": 0.36}}},
  {"data": {"values": [{}]}, "mark": {"type": "text", "font": "Liberation Serif", "fontSize": 18, "align": "left", "baseline": "middle", "color": "#000"}, "encoding": {"x": {"datum": 3.371}, "y": {"datum": 3.792}, "text": {"value": "One Stop Flare"}}},
  {"data": {"values": [{}]}, "mark": {"type": "text", "font": "Liberation Serif", "fontSize": 12, "lineHeight": 14.5, "align": "left", "baseline": "alphabetic", "color": "#000"}, "encoding": {"x": {"datum": 3.371}, "y": {"datum": -0.894}, "text": {"value": ["With a stop of flare, the lower exposure values are compressed.\u00a0 Notice how the relative log-H exposure hasn’t change.\u00a0 This is because we are", "looking at two different things.\u00a0 One is the film curve created by sensitometric exposure.\u00a0 This isn’t going to change.\u00a0 The other is the camera exposure", "and where the values from the subject will fall."]}}},
  {"data": {"values": [{}]}, "mark": {"type": "text", "fontSize": 10.5, "align": "left", "baseline": "middle"}, "encoding": {"x": {"datum": 3.113}, "y": {"datum": 1.42}, "text": {"value": "Film Curve"}}},
  {"data": {"values": [{}]}, "mark": {"type": "text", "fontSize": 10, "lineHeight": 12.1, "align": "left", "baseline": "alphabetic"}, "encoding": {"x": {"datum": 3.113}, "y": {"datum": 1.232}, "text": {"value": ["Kodak Tri-X 135", "CI:0.56\u00a0 G:0.56", "Dev:Xtol\u00a0 Dil: 1:1", "Agitation:Dip & Dunk", "Time:6:00\u00a0 Temp:21.5° C"]}}},
  {"data": {"values": [{}]}, "mark": {"type": "rule", "color": "#666", "strokeWidth": 1}, "encoding": {"x": {"datum": 3.113}, "x2": {"datum": 2.41}, "y": {"datum": 0.60}}},
  {"data": {"values": [{}]}, "mark": {"type": "text", "fontSize": 10, "lineHeight": 11.8, "align": "left", "baseline": "alphabetic"}, "encoding": {"x": {"datum": 3.113}, "y": {"datum": 0.446}, "text": {"value": ["DR:1.01", "Highlight:1.13", "Metered:0.63", "Shadow:0.12"]}}},
  {"data": {"values": [{}]}, "mark": {"type": "text", "fontSize": 17, "angle": 270, "align": "center", "baseline": "middle", "color": "#222"}, "encoding": {"x": {"datum": 4.110}, "y": {"datum": 1.479}, "text": {"value": "Quadrant 2 - Film Curve"}}},
  {"data": {"values": [{}]}, "mark": {"type": "text", "font": "Liberation Serif", "fontSize": 12, "align": "center", "baseline": "middle", "color": "#000"}, "encoding": {"x": {"datum": 4.696}, "y": {"datum": 0.176}, "text": {"value": "Relative log-H"}}},
  {"data": {"values": [{}]}, "mark": {"type": "rule", "color": "#000", "strokeWidth": 1.2}, "encoding": {"x": {"datum": 4.18}, "y": {"datum": 0.176}, "x2": {"datum": 3.70}, "y2": {"datum": 0.278}}},
  {"data": {"values": [{}]}, "mark": {"type": "rule", "color": "#000", "strokeWidth": 1.2}, "encoding": {"x": {"datum": 4.18}, "y": {"datum": 0.176}, "x2": {"datum": 3.745}, "y2": {"datum": 0.01}}},
  {"data": {"values": [{}]}, "mark": {"type": "point", "shape": "triangle", "filled": true, "size": 30, "angle": 78, "color": "#000", "opacity": 1}, "encoding": {"x": {"datum": 3.722}, "y": {"datum": 0.275}}},
  {"data": {"values": [{}]}, "mark": {"type": "point", "shape": "triangle", "filled": true, "size": 30, "angle": 111, "color": "#000", "opacity": 1}, "encoding": {"x": {"datum": 3.768}, "y": {"datum": 0.013}}}
 ]},
 {"width": 324, "height": 323, "layer": [
  {"data": {"values": [{}]}, "mark": {"type": "rect", "color": "#e0e0e0"}, "encoding": {"x": {"datum": 2.55}, "x2": {"datum": 2.10}, "y": {"datum": 3.51}, "y2": {"datum": 3.71}}},
  {"data": {"values": [{}]}, "mark": {"type": "rect", "color": "#e0e0e0"}, "encoding": {"x": {"datum": 0.0}, "x2": {"datum": -0.75}, "y": {"datum": 3.51}, "y2": {"datum": 3.71}}},
  {"data": {"name": "top"}, "mark": {"type": "rule", "color": "#9a9a9a"}, "encoding": {"x": {"field": "R1", "type": "quantitative"}, "y": {"datum": 3.51}, "y2": {"datum": 3.71}}},
  {"data": {"values": [{}]}, "mark": {"type": "rule", "color": "#9a9a9a"}, "encoding": {"x": {"datum": -0.75}, "y": {"datum": 3.51}, "y2": {"datum": 3.71}}},
  {"data": {"values": [{}]}, "mark": {"type": "rule", "color": "#9a9a9a"}, "encoding": {"x": {"datum": 2.55}, "x2": {"datum": -0.75}, "y": {"datum": 3.71}}},
  {"data": {"name": "top"}, "mark": {"type": "text", "fontSize": 11, "color": "#a8a8a8", "baseline": "middle"}, "encoding": {"x": {"field": "R", "type": "quantitative"}, "y": {"datum": 3.61}, "text": {"field": "zone", "type": "nominal"}}},
  {"data": {"name": "zones"}, "transform": [{"filter": "datum.sec==3"}], "mark": {"type": "rule", "color": "#9a9a9a"}, "encoding": {"x": {"datum": 2.90}, "x2": {"datum": 3.193}, "y": {"field": "lo", "type": "quantitative"}}},
  {"data": {"name": "zones"}, "transform": [{"filter": "datum.sec==3"}], "mark": {"type": "rule", "color": "#9a9a9a"}, "encoding": {"x": {"datum": 2.90}, "x2": {"datum": 3.193}, "y": {"field": "hi", "type": "quantitative"}}},
  {"data": {"name": "zones"}, "transform": [{"filter": "datum.sec==3"}], "mark": {"type": "text", "fontSize": 10.5, "color": "#999", "baseline": "middle"}, "encoding": {"x": {"datum": 3.047}, "y": {"field": "logH", "type": "quantitative"}, "text": {"field": "zone", "type": "nominal"}}},
  {"data": {"name": "zones"}, "transform": [{"filter": "datum.sec==3 && datum.zone!='V'"}], "mark": {"type": "rule", "color": "#8a8a8a", "strokeDash": [3,3], "strokeWidth": 1}, "encoding": {"x": {"field": "R", "type": "quantitative"}, "y": {"field": "logH", "type": "quantitative"}, "y2": {"datum": 3.51}}},
  {"data": {"name": "zones"}, "transform": [{"filter": "datum.sec==3 && datum.zone!='V'"}], "mark": {"type": "rule", "color": "#8a8a8a", "strokeDash": [3,3], "strokeWidth": 1}, "encoding": {"x": {"field": "R", "type": "quantitative"}, "x2": {"datum": 2.90}, "y": {"field": "logH", "type": "quantitative"}}},
  {"data": {"name": "zones"}, "transform": [{"filter": "datum.sec==3 && datum.zone=='V'"}], "mark": {"type": "rule", "color": "#000", "strokeDash": [8,4], "strokeWidth": 1.3}, "encoding": {"x": {"field": "R", "type": "quantitative"}, "y": {"field": "logH", "type": "quantitative"}, "y2": {"datum": 3.51}}},
  {"data": {"name": "zones"}, "transform": [{"filter": "datum.sec==3 && datum.zone=='V'"}], "mark": {"type": "rule", "color": "#000", "strokeDash": [8,4], "strokeWidth": 1.3}, "encoding": {"x": {"field": "R", "type": "quantitative"}, "x2": {"datum": 2.90}, "y": {"field": "logH", "type": "quantitative"}}},
  {"data": {"name": "ref"}, "transform": [{"filter": "datum.sec==3"}], "mark": {"type": "line", "color": "#000", "strokeWidth": 1}, "encoding": {"x": {"field": "R", "type": "quantitative"}, "y": {"field": "logH", "type": "quantitative"}}},
  {"data": {"name": "zones"}, "transform": [{"filter": "datum.sec==3"}], "mark": {"type": "line", "color": "#000", "strokeWidth": 1},
   "encoding": {
    "x": {"field": "R", "type": "quantitative", "scale": {"domain": [-0.9, 2.9], "reverse": true, "nice": false, "zero": false},
      "axis": {"title": "Reflectance", "tickCount": 100, "labelOverlap": false, "values": [-0.8,-0.7,-0.6,-0.5,-0.4,-0.3,-0.2,-0.1,0,0.1,0.2,0.3,0.4,0.5,0.6,0.7,0.8,0.9,1,1.1,1.2,1.3,1.4,1.5,1.6,1.7,1.8,1.9,2,2.1,2.2,2.3,2.4,2.5,2.6,2.7,2.8], "labelExpr": "round(datum.value*10)%3==0 ? format(datum.value,'.2f') : ''", "tickSize": {"condition": {"test": "round(datum.value*10)%3==0", "value": 4}, "value": 2}, "grid": true, "gridOpacity": {"condition": {"test": "abs(datum.value-round(datum.value))<0.01", "value": 1}, "value": 0}, "titlePadding": 3}},
    "y": {"field": "logH", "type": "quantitative", "scale": {"domain": [-0.28, 3.51], "nice": false, "zero": false},
      "axis": {"orient": "right", "title": "Exposure - Meter Candle Seconds", "tickCount": 100, "labelOverlap": false, "values": [-0.2,-0.1,0,0.1,0.2,0.3,0.4,0.5,0.6,0.7,0.8,0.9,1,1.1,1.2,1.3,1.4,1.5,1.6,1.7,1.8,1.9,2,2.1,2.2,2.3,2.4,2.5,2.6,2.7,2.8,2.9,3,3.1,3.2,3.3,3.4], "labelExpr": "(round(datum.value*10)+1)%3==0 ? format(4.674*pow(10,datum.value-3.2),'.3f') : ''", "tickSize": {"condition": {"test": "(round(datum.value*10)+1)%3==0", "value": 4}, "value": 2}, "grid": true, "gridOpacity": {"condition": {"test": "abs(datum.value-round(datum.value))<0.01", "value": 1}, "value": 0}, "titlePadding": 4}}}},
  {"data": {"name": "top"}, "mark": {"type": "point", "filled": true, "size": 10, "color": "#000", "opacity": 1}, "encoding": {"x": {"field": "R", "type": "quantitative"}, "y": {"datum": 3.51}}},
  {"data": {"name": "zones"}, "transform": [{"filter": "datum.sec==3"}], "mark": {"type": "point", "filled": true, "size": 10, "color": "#000", "opacity": 1}, "encoding": {"x": {"datum": 2.90}, "y": {"field": "logH", "type": "quantitative"}}},
  {"data": {"name": "zones"}, "transform": [{"filter": "datum.sec==3 && datum.zone=='V'"}], "mark": {"type": "point", "filled": true, "size": 12, "color": "#000", "opacity": 1}, "encoding": {"x": {"field": "R", "type": "quantitative"}, "y": {"field": "logH", "type": "quantitative"}}},
  {"data": {"values": [{}]}, "mark": {"type": "text", "fontSize": 8, "baseline": "middle"}, "encoding": {"x": {"datum": 2.28}, "y": {"datum": 0.36}, "text": {"value": "0.0082"}}},
  {"data": {"values": [{}]}, "mark": {"type": "text", "fontSize": 8, "baseline": "middle"}, "encoding": {"x": {"datum": 2.28}, "y": {"datum": 0.055}, "text": {"value": "0.0041"}}},
  {"data": {"values": [{}]}, "mark": {"type": "text", "fontSize": 10.5, "align": "left", "baseline": "middle"}, "encoding": {"x": {"datum": 0.297}, "y": {"datum": 0.62}, "text": {"value": "Camera Image"}}},
  {"data": {"values": [{}]}, "mark": {"type": "text", "fontSize": 10, "lineHeight": 12.3, "align": "left", "baseline": "alphabetic"}, "encoding": {"x": {"datum": 0.297}, "y": {"datum": 0.434}, "text": {"value": ["FF:2.00", "SBR:7.00 HR:1.79", "Zone V = 12%", "Exp Adj:0.00"]}}},
  {"data": {"values": [{}]}, "mark": {"type": "text", "fontSize": 17, "angle": 90, "align": "center", "baseline": "middle", "color": "#222"}, "encoding": {"x": {"datum": -1.567}, "y": {"datum": 1.678}, "text": {"value": "Quadrant 1 - Camera/Flare"}}}
 ]}
], "spacing": 25, "bounds": "flush"},

{"hconcat": [
 {"width": 324, "height": 323, "layer": [
  {"data": {"values": [{}]}, "mark": {"type": "rule", "opacity": 0}, "encoding": {"x": {"datum": 5.493}, "x2": {"datum": -6.323}, "y": {"datum": 4.179}, "y2": {"datum": -2.322}}},
  {"data": {"name": "film"}, "mark": {"type": "line", "color": "#000", "strokeWidth": 1},
   "encoding": {
    "x": {"field": "D", "type": "quantitative", "scale": {"domain": [-0.395, 3.403], "reverse": true, "nice": false, "zero": false},
      "axis": {"title": "Negative Density", "tickCount": 100, "labelOverlap": false, "values": [-0.1,0,0.1,0.2,0.3,0.4,0.5,0.6,0.7,0.8,0.9,1,1.1,1.2,1.3,1.4,1.5,1.6,1.7,1.8,1.9,2,2.1,2.2,2.3,2.4,2.5,2.6,2.7,2.8,2.9,3,3.1,3.2,3.3,3.4], "labelExpr": "round(datum.value*10)%3==0 ? format(datum.value,'.2f') : ''", "tickSize": {"condition": {"test": "round(datum.value*10)%3==0", "value": 4}, "value": 2}, "grid": true, "gridOpacity": {"condition": {"test": "abs(datum.value-round(datum.value))<0.01", "value": 1}, "value": 0}, "titlePadding": 3}},
    "y": {"field": "logH", "type": "quantitative", "scale": {"domain": [-0.28, 3.51], "nice": false, "zero": false},
      "axis": {"title": "Relative Log-H", "tickCount": 100, "labelOverlap": false, "values": [-0.2,-0.1,0,0.1,0.2,0.3,0.4,0.5,0.6,0.7,0.8,0.9,1,1.1,1.2,1.3,1.4,1.5,1.6,1.7,1.8,1.9,2,2.1,2.2,2.3,2.4,2.5,2.6,2.7,2.8,2.9,3,3.1,3.2,3.3,3.4,3.5], "labelExpr": "round(datum.value*10)%3==0 ? format(datum.value,'.2f') : ''", "tickSize": {"condition": {"test": "round(datum.value*10)%3==0", "value": 4}, "value": 2}, "grid": true, "gridOpacity": {"condition": {"test": "abs(datum.value-round(datum.value))<0.01", "value": 1}, "value": 0}, "titlePadding": 8}}}},
  {"data": {"name": "zones"}, "transform": [{"filter": "datum.sec==4 && datum.zone!='V'"}], "mark": {"type": "rule", "color": "#8a8a8a", "strokeDash": [3,3], "strokeWidth": 1}, "encoding": {"x": {"field": "D", "type": "quantitative"}, "y": {"field": "logH", "type": "quantitative"}, "y2": {"datum": 3.51}}},
  {"data": {"name": "zones"}, "transform": [{"filter": "datum.sec==4 && datum.zone!='V'"}], "mark": {"type": "rule", "color": "#8a8a8a", "strokeDash": [3,3], "strokeWidth": 1}, "encoding": {"x": {"field": "D", "type": "quantitative"}, "x2": {"datum": -0.395}, "y": {"field": "logH", "type": "quantitative"}}},
  {"data": {"name": "zones"}, "transform": [{"filter": "datum.sec==4 && datum.zone=='V'"}], "mark": {"type": "rule", "color": "#000", "strokeDash": [8,4], "strokeWidth": 1.3}, "encoding": {"x": {"field": "D", "type": "quantitative"}, "y": {"field": "logH", "type": "quantitative"}, "y2": {"datum": 3.51}}},
  {"data": {"name": "zones"}, "transform": [{"filter": "datum.sec==4 && datum.zone=='V'"}], "mark": {"type": "rule", "color": "#000", "strokeDash": [8,4], "strokeWidth": 1.3}, "encoding": {"x": {"field": "D", "type": "quantitative"}, "x2": {"datum": -0.395}, "y": {"field": "logH", "type": "quantitative"}}},
  {"data": {"name": "zones"}, "transform": [{"filter": "datum.sec==4"}], "mark": {"type": "point", "filled": true, "size": 10, "color": "#000", "opacity": 1}, "encoding": {"x": {"field": "D", "type": "quantitative"}, "y": {"datum": 3.51}}},
  {"data": {"name": "zones"}, "transform": [{"filter": "datum.sec==4"}], "mark": {"type": "point", "filled": true, "size": 10, "color": "#000", "opacity": 1}, "encoding": {"x": {"datum": -0.395}, "y": {"field": "logH", "type": "quantitative"}}},
  {"data": {"name": "zones"}, "transform": [{"filter": "datum.sec==4 && datum.zone=='V'"}], "mark": {"type": "point", "filled": true, "size": 12, "color": "#000", "opacity": 1}, "encoding": {"x": {"field": "D", "type": "quantitative"}, "y": {"field": "logH", "type": "quantitative"}}},
  {"data": {"values": [{}]}, "mark": {"type": "point", "filled": true, "size": 12, "color": "#000", "opacity": 1}, "encoding": {"x": {"datum": 0.10}, "y": {"datum": 0.36}}},
  {"data": {"values": [{}]}, "mark": {"type": "text", "font": "Liberation Serif", "fontSize": 18, "align": "left", "baseline": "middle", "color": "#000"}, "encoding": {"x": {"datum": 3.371}, "y": {"datum": 3.885}, "text": {"value": "Two Stops Flare"}}},
  {"data": {"values": [{}]}, "mark": {"type": "text", "font": "Liberation Serif", "fontSize": 12, "lineHeight": 14.5, "align": "left", "baseline": "alphabetic", "color": "#000"}, "encoding": {"x": {"datum": 3.371}, "y": {"datum": -1.026}, "text": {"value": ["With two stops of flare, the compression of the lower exposure values is more pronounced.\u00a0 It should be obvious that using Zone System symbols", "in place of relative log-H or log-H exposure can create a misconception of the difference between sensitometric exposure and camera exposure.\u00a0 In", "addition, this is a good example showing the importance of interpreting the film curve within a larger context.\u00a0 Without being aware of the two", "stops of flare and interpreting the resulting image based only on the film curve, one would likely conclude the film has a long toe, or upon comparing", "the results from the print with the isolated film curve, it would be easy to misinterprete the cause and effect of the slope of the toe."]}}},
  {"data": {"values": [{}]}, "mark": {"type": "text", "fontSize": 10.5, "align": "left", "baseline": "middle"}, "encoding": {"x": {"datum": 3.113}, "y": {"datum": 1.42}, "text": {"value": "Film Curve"}}},
  {"data": {"values": [{}]}, "mark": {"type": "text", "fontSize": 10, "lineHeight": 12.1, "align": "left", "baseline": "alphabetic"}, "encoding": {"x": {"datum": 3.113}, "y": {"datum": 1.232}, "text": {"value": ["Kodak Tri-X 135", "CI:0.56\u00a0 G:0.56", "Dev:Xtol\u00a0 Dil: 1:1", "Agitation:Dip & Dunk", "Time:6:00\u00a0 Temp:21.5° C"]}}},
  {"data": {"values": [{}]}, "mark": {"type": "rule", "color": "#666", "strokeWidth": 1}, "encoding": {"x": {"datum": 3.113}, "x2": {"datum": 2.41}, "y": {"datum": 0.60}}},
  {"data": {"values": [{}]}, "mark": {"type": "text", "fontSize": 10, "lineHeight": 11.8, "align": "left", "baseline": "alphabetic"}, "encoding": {"x": {"datum": 3.113}, "y": {"datum": 0.446}, "text": {"value": ["DR:0.88", "Highlight:1.13", "Metered:0.66", "Shadow:0.25"]}}},
  {"data": {"values": [{}]}, "mark": {"type": "text", "fontSize": 17, "angle": 270, "align": "center", "baseline": "middle", "color": "#222"}, "encoding": {"x": {"datum": 4.110}, "y": {"datum": 1.479}, "text": {"value": "Quadrant 2 - Film Curve"}}},
  {"data": {"values": [{}]}, "mark": {"type": "text", "font": "Liberation Serif", "fontSize": 12, "align": "center", "baseline": "middle", "color": "#000"}, "encoding": {"x": {"datum": 4.696}, "y": {"datum": 0.176}, "text": {"value": "Relative log-H"}}},
  {"data": {"values": [{}]}, "mark": {"type": "rule", "color": "#000", "strokeWidth": 1.2}, "encoding": {"x": {"datum": 4.18}, "y": {"datum": 0.176}, "x2": {"datum": 3.70}, "y2": {"datum": 0.278}}},
  {"data": {"values": [{}]}, "mark": {"type": "rule", "color": "#000", "strokeWidth": 1.2}, "encoding": {"x": {"datum": 4.18}, "y": {"datum": 0.176}, "x2": {"datum": 3.745}, "y2": {"datum": 0.01}}},
  {"data": {"values": [{}]}, "mark": {"type": "point", "shape": "triangle", "filled": true, "size": 30, "angle": 78, "color": "#000", "opacity": 1}, "encoding": {"x": {"datum": 3.722}, "y": {"datum": 0.275}}},
  {"data": {"values": [{}]}, "mark": {"type": "point", "shape": "triangle", "filled": true, "size": 30, "angle": 111, "color": "#000", "opacity": 1}, "encoding": {"x": {"datum": 3.768}, "y": {"datum": 0.013}}}
 ]},
 {"width": 324, "height": 323, "layer": [
  {"data": {"values": [{}]}, "mark": {"type": "rect", "color": "#e0e0e0"}, "encoding": {"x": {"datum": 2.55}, "x2": {"datum": 2.10}, "y": {"datum": 3.51}, "y2": {"datum": 3.71}}},
  {"data": {"values": [{}]}, "mark": {"type": "rect", "color": "#e0e0e0"}, "encoding": {"x": {"datum": 0.0}, "x2": {"datum": -0.75}, "y": {"datum": 3.51}, "y2": {"datum": 3.71}}},
  {"data": {"name": "top"}, "mark": {"type": "rule", "color": "#9a9a9a"}, "encoding": {"x": {"field": "R1", "type": "quantitative"}, "y": {"datum": 3.51}, "y2": {"datum": 3.71}}},
  {"data": {"values": [{}]}, "mark": {"type": "rule", "color": "#9a9a9a"}, "encoding": {"x": {"datum": -0.75}, "y": {"datum": 3.51}, "y2": {"datum": 3.71}}},
  {"data": {"values": [{}]}, "mark": {"type": "rule", "color": "#9a9a9a"}, "encoding": {"x": {"datum": 2.55}, "x2": {"datum": -0.75}, "y": {"datum": 3.71}}},
  {"data": {"name": "top"}, "mark": {"type": "text", "fontSize": 11, "color": "#a8a8a8", "baseline": "middle"}, "encoding": {"x": {"field": "R", "type": "quantitative"}, "y": {"datum": 3.61}, "text": {"field": "zone", "type": "nominal"}}},
  {"data": {"name": "zones"}, "transform": [{"filter": "datum.sec==4"}], "mark": {"type": "rule", "color": "#9a9a9a"}, "encoding": {"x": {"datum": 2.90}, "x2": {"datum": 3.193}, "y": {"field": "lo", "type": "quantitative"}}},
  {"data": {"name": "zones"}, "transform": [{"filter": "datum.sec==4"}], "mark": {"type": "rule", "color": "#9a9a9a"}, "encoding": {"x": {"datum": 2.90}, "x2": {"datum": 3.193}, "y": {"field": "hi", "type": "quantitative"}}},
  {"data": {"name": "zones"}, "transform": [{"filter": "datum.sec==4"}], "mark": {"type": "text", "fontSize": 10.5, "color": "#999", "baseline": "middle"}, "encoding": {"x": {"datum": 3.047}, "y": {"field": "logH", "type": "quantitative"}, "text": {"field": "zone", "type": "nominal"}}},
  {"data": {"name": "zones"}, "transform": [{"filter": "datum.sec==4 && datum.zone!='V'"}], "mark": {"type": "rule", "color": "#8a8a8a", "strokeDash": [3,3], "strokeWidth": 1}, "encoding": {"x": {"field": "R", "type": "quantitative"}, "y": {"field": "logH", "type": "quantitative"}, "y2": {"datum": 3.51}}},
  {"data": {"name": "zones"}, "transform": [{"filter": "datum.sec==4 && datum.zone!='V'"}], "mark": {"type": "rule", "color": "#8a8a8a", "strokeDash": [3,3], "strokeWidth": 1}, "encoding": {"x": {"field": "R", "type": "quantitative"}, "x2": {"datum": 2.90}, "y": {"field": "logH", "type": "quantitative"}}},
  {"data": {"name": "zones"}, "transform": [{"filter": "datum.sec==4 && datum.zone=='V'"}], "mark": {"type": "rule", "color": "#000", "strokeDash": [8,4], "strokeWidth": 1.3}, "encoding": {"x": {"field": "R", "type": "quantitative"}, "y": {"field": "logH", "type": "quantitative"}, "y2": {"datum": 3.51}}},
  {"data": {"name": "zones"}, "transform": [{"filter": "datum.sec==4 && datum.zone=='V'"}], "mark": {"type": "rule", "color": "#000", "strokeDash": [8,4], "strokeWidth": 1.3}, "encoding": {"x": {"field": "R", "type": "quantitative"}, "x2": {"datum": 2.90}, "y": {"field": "logH", "type": "quantitative"}}},
  {"data": {"name": "ref"}, "transform": [{"filter": "datum.sec==4"}], "mark": {"type": "line", "color": "#000", "strokeWidth": 1}, "encoding": {"x": {"field": "R", "type": "quantitative"}, "y": {"field": "logH", "type": "quantitative"}}},
  {"data": {"name": "zones"}, "transform": [{"filter": "datum.sec==4"}], "mark": {"type": "line", "color": "#000", "strokeWidth": 1},
   "encoding": {
    "x": {"field": "R", "type": "quantitative", "scale": {"domain": [-0.9, 2.9], "reverse": true, "nice": false, "zero": false},
      "axis": {"title": "Reflectance", "tickCount": 100, "labelOverlap": false, "values": [-0.8,-0.7,-0.6,-0.5,-0.4,-0.3,-0.2,-0.1,0,0.1,0.2,0.3,0.4,0.5,0.6,0.7,0.8,0.9,1,1.1,1.2,1.3,1.4,1.5,1.6,1.7,1.8,1.9,2,2.1,2.2,2.3,2.4,2.5,2.6,2.7,2.8], "labelExpr": "round(datum.value*10)%3==0 ? format(datum.value,'.2f') : ''", "tickSize": {"condition": {"test": "round(datum.value*10)%3==0", "value": 4}, "value": 2}, "grid": true, "gridOpacity": {"condition": {"test": "abs(datum.value-round(datum.value))<0.01", "value": 1}, "value": 0}, "titlePadding": 3}},
    "y": {"field": "logH", "type": "quantitative", "scale": {"domain": [-0.28, 3.51], "nice": false, "zero": false},
      "axis": {"orient": "right", "title": "Exposure - Meter Candle Seconds", "tickCount": 100, "labelOverlap": false, "values": [-0.2,-0.1,0,0.1,0.2,0.3,0.4,0.5,0.6,0.7,0.8,0.9,1,1.1,1.2,1.3,1.4,1.5,1.6,1.7,1.8,1.9,2,2.1,2.2,2.3,2.4,2.5,2.6,2.7,2.8,2.9,3,3.1,3.2,3.3,3.4], "labelExpr": "(round(datum.value*10)+1)%3==0 ? format(4.674*pow(10,datum.value-3.2),'.3f') : ''", "tickSize": {"condition": {"test": "(round(datum.value*10)+1)%3==0", "value": 4}, "value": 2}, "grid": true, "gridOpacity": {"condition": {"test": "abs(datum.value-round(datum.value))<0.01", "value": 1}, "value": 0}, "titlePadding": 4}}}},
  {"data": {"name": "top"}, "mark": {"type": "point", "filled": true, "size": 10, "color": "#000", "opacity": 1}, "encoding": {"x": {"field": "R", "type": "quantitative"}, "y": {"datum": 3.51}}},
  {"data": {"name": "zones"}, "transform": [{"filter": "datum.sec==4"}], "mark": {"type": "point", "filled": true, "size": 10, "color": "#000", "opacity": 1}, "encoding": {"x": {"datum": 2.90}, "y": {"field": "logH", "type": "quantitative"}}},
  {"data": {"name": "zones"}, "transform": [{"filter": "datum.sec==4 && datum.zone=='V'"}], "mark": {"type": "point", "filled": true, "size": 12, "color": "#000", "opacity": 1}, "encoding": {"x": {"field": "R", "type": "quantitative"}, "y": {"field": "logH", "type": "quantitative"}}},
  {"data": {"values": [{}]}, "mark": {"type": "text", "fontSize": 8, "baseline": "middle"}, "encoding": {"x": {"datum": 2.28}, "y": {"datum": 0.665}, "text": {"value": "0.0163"}}},
  {"data": {"values": [{}]}, "mark": {"type": "text", "fontSize": 8, "baseline": "middle"}, "encoding": {"x": {"datum": 2.28}, "y": {"datum": 0.055}, "text": {"value": "0.0041"}}},
  {"data": {"values": [{}]}, "mark": {"type": "text", "fontSize": 10.5, "align": "left", "baseline": "middle"}, "encoding": {"x": {"datum": 0.297}, "y": {"datum": 0.62}, "text": {"value": "Camera Image"}}},
  {"data": {"values": [{}]}, "mark": {"type": "text", "fontSize": 10, "lineHeight": 12.3, "align": "left", "baseline": "alphabetic"}, "encoding": {"x": {"datum": 0.297}, "y": {"datum": 0.434}, "text": {"value": ["FF:4.00", "SBR:7.00 HR:1.50", "Zone V = 12%", "Exp Adj:0.00"]}}},
  {"data": {"values": [{}]}, "mark": {"type": "text", "fontSize": 17, "angle": 90, "align": "center", "baseline": "middle", "color": "#222"}, "encoding": {"x": {"datum": -1.567}, "y": {"datum": 1.678}, "text": {"value": "Quadrant 1 - Camera/Flare"}}}
 ]}
], "spacing": 25, "bounds": "flush"}
],
"spacing": 0
}
